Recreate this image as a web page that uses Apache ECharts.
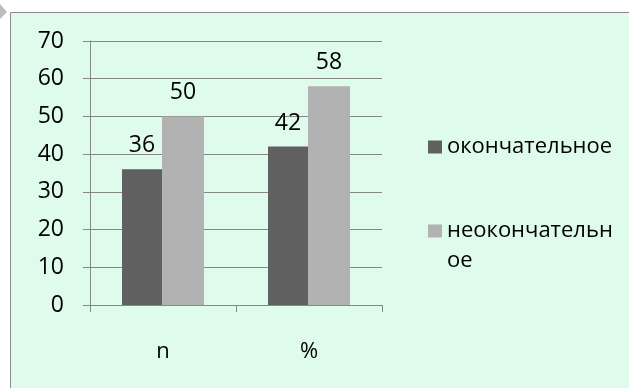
<!DOCTYPE html>
<html style="height: 100%">
<head>
  <meta charset="utf-8">
</head>
<body style="height: 100%; margin: 0; background: #fff">
  <div id="container" style="width: 629px; height: 388px"></div>
  <script src="https://cdn.jsdelivr.net/npm/echarts@6/dist/echarts.min.js"></script>
  <script>
    // data
    var categories = ['n', '%'];
    var finalValues = [36, 42];
    var notFinalValues = [50, 58];
    var seriesNames = ['окончательное', 'неокончательное'];

    var chart = echarts.init(document.getElementById('container'), null, { renderer: 'canvas' });
    var font = 'Open Sans';
    var gridColor = '#878787';

    var option = {
      animation: false,
      backgroundColor: '#ffffff',
      textStyle: { fontFamily: font },
      graphic: [
        {
          type: 'rect',
          z: -10,
          shape: { x: 10.5, y: 12.5, width: 640, height: 400 },
          style: { fill: '#dffbeb', stroke: '#8c8c8c', lineWidth: 1 }
        },
        {
          type: 'polygon',
          z: -10,
          shape: { points: [[0, 4], [7, 12], [0, 19]] },
          style: { fill: '#bdbdbd' }
        }
      ],
      grid: { left: 90, top: 41, right: 247, bottom: 83, containLabel: false },
      legend: {
        orient: 'vertical',
        left: 423,
        top: 127,
        icon: 'rect',
        itemWidth: 14,
        itemHeight: 13,
        itemGap: 24,
        // second name wraps in the original; the empty first line keeps the square beside the first line
        formatter: function (name) {
          return name === seriesNames[1] ? '\nнеокончательн\nое' : name;
        },
        textStyle: { fontFamily: font, fontSize: 22, color: '#000', lineHeight: 30 }
      },
      xAxis: {
        type: 'category',
        data: categories,
        axisLine: { lineStyle: { color: gridColor } },
        axisTick: { show: true, length: 7, lineStyle: { color: gridColor } },
        axisLabel: { color: '#000', fontSize: 22, fontFamily: font, margin: 36 }
      },
      yAxis: {
        type: 'value',
        min: 0,
        max: 70,
        interval: 10,
        axisLine: { show: true, lineStyle: { color: gridColor } },
        axisTick: { show: true, length: 7, lineStyle: { color: gridColor } },
        splitLine: { lineStyle: { color: gridColor } },
        axisLabel: { color: '#000', fontSize: 23, fontFamily: font, margin: 26 }
      },
      series: [
        {
          name: seriesNames[0],
          type: 'bar',
          data: finalValues,
          barWidth: 40,
          barGap: '0%',
          itemStyle: { color: '#606060' },
          label: { show: true, position: 'top', distance: 12, color: '#000', fontSize: 23, fontFamily: font }
        },
        {
          name: seriesNames[1],
          type: 'bar',
          data: notFinalValues,
          barWidth: 42,
          itemStyle: { color: '#b2b2b2' },
          label: { show: true, position: 'top', distance: 12, color: '#000', fontSize: 23, fontFamily: font }
        }
      ]
    };

    chart.setOption(option);
    window.addEventListener('resize', chart.resize);
  </script>
</body>
</html>
